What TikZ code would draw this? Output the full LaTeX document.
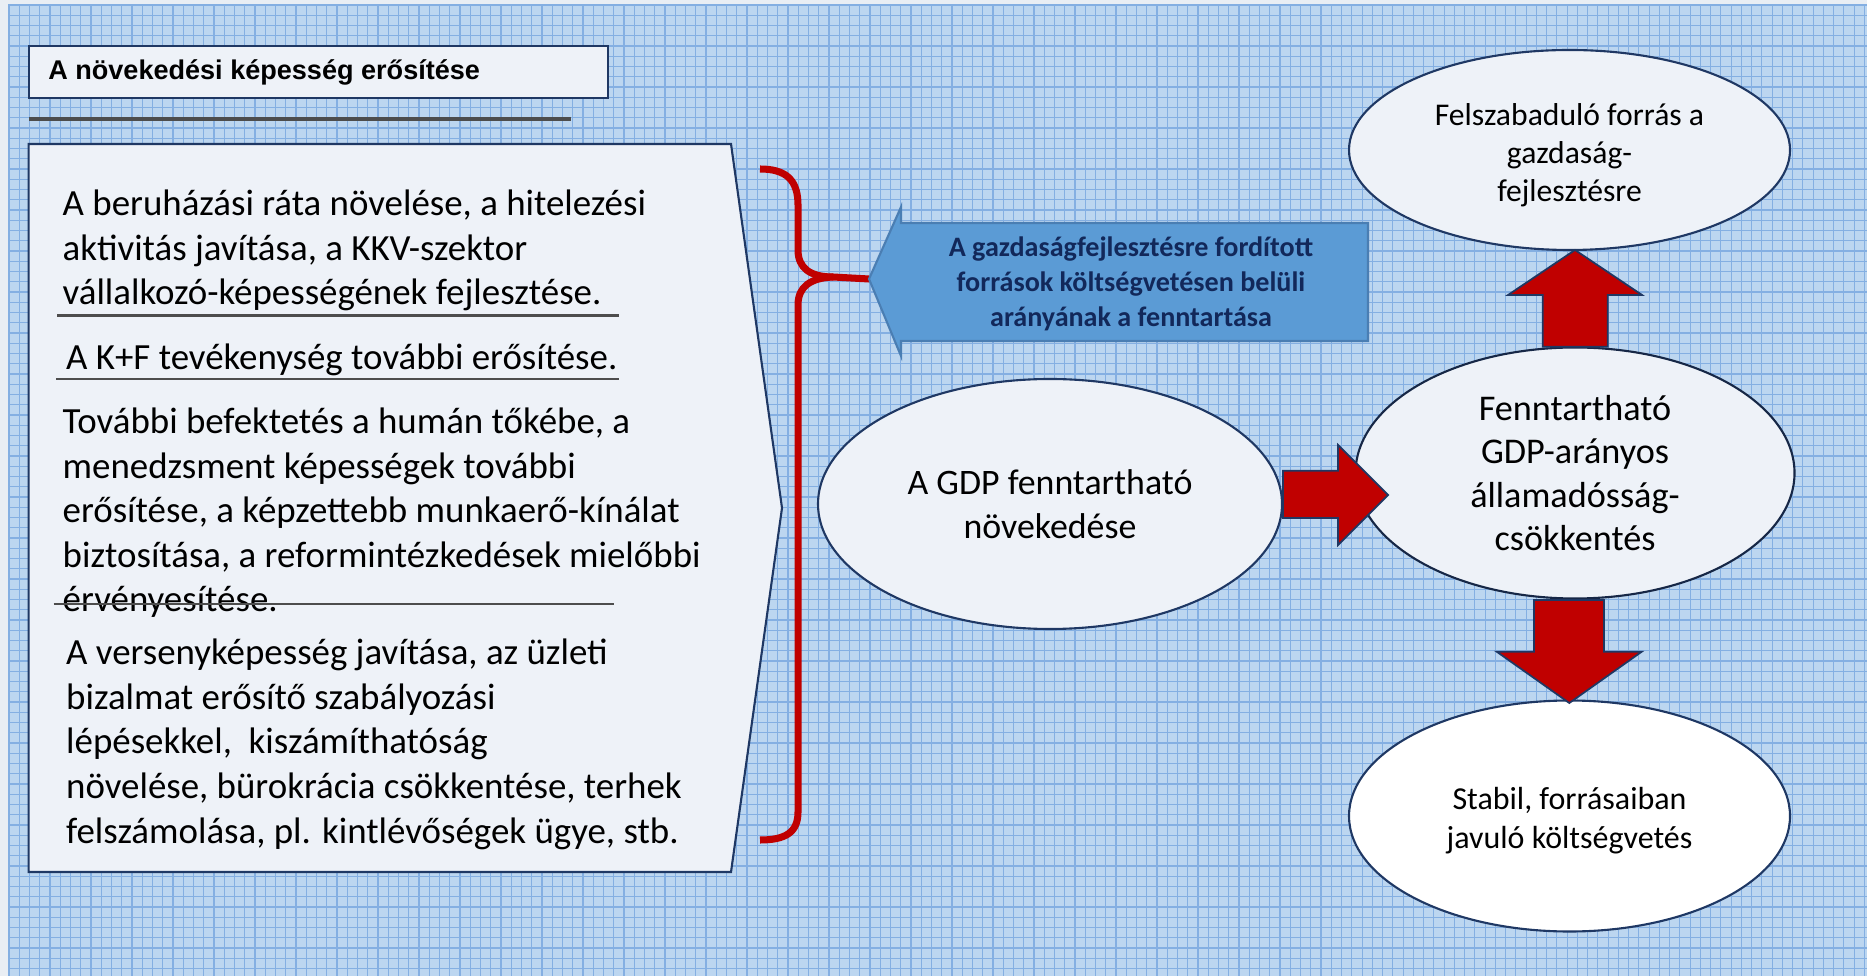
\documentclass[tikz,border=0pt]{standalone}
\usepackage{fontspec}
\setmainfont{Carlito}
\newfontfamily\titlefont{Liberation Sans}
\usetikzlibrary{shapes.geometric}

\definecolor{paper}{HTML}{E9EEF4}
\definecolor{sheetblue}{HTML}{BCD6F0}
\definecolor{gridblue}{HTML}{84AFE2}
\definecolor{boxfill}{HTML}{EEF2F8}
\definecolor{navy}{HTML}{1F3864}
\definecolor{darkred}{HTML}{C00000}
\definecolor{arrowblue}{HTML}{5B9BD5}
\definecolor{arrowedge}{HTML}{4A7EB3}
\definecolor{textnavy}{HTML}{12285A}
\definecolor{rulegray}{HTML}{4D4D4D}

\tikzset{
  gridline/.style={gridblue, line width=0.3pt},
  bodytext/.style={font=\fontsize{10.5}{12.7}\selectfont, align=left, anchor=base west, inner sep=0pt},
  ruleline/.style={rulegray, line width=0.6pt},
  bubble/.style={ellipse, draw=navy, line width=0.6pt, fill=boxfill, inner sep=0pt, align=center},
  redarrow/.style={fill=darkred, draw=navy, line width=0.5pt, line join=miter},
  bracestyle/.style={darkred, line width=2pt}
}

\begin{document}
\begin{tikzpicture}[x=0.1mm, y=-0.1mm]
  \useasboundingbox (0,0) rectangle (1867,976);
  % background sheet with grid
  \fill[paper] (0,0) rectangle (1867,976);
  \fill[sheetblue] (8,5) rectangle (1867,976);
  \foreach \gx in {9,19.25,...,1867} \draw[gridline] (\gx,5) -- (\gx,976);
  \foreach \gy in {5,15.25,...,976} \draw[gridline] (8,\gy) -- (1867,\gy);

  % title
  \draw[navy, line width=0.6pt, fill=boxfill] (28.6,46.4) rectangle (608,97.6);
  \node[anchor=west, inner sep=0pt, font=\titlefont\bfseries\fontsize{7.7}{9}\selectfont] (title) at (47.6,72.6) {A növekedési képesség erősítése};
  \draw[ruleline, line width=0.9pt] (29,119) -- (571,119);

  % left panel (base anchor = last line)
  \draw[navy, line width=0.6pt, fill=boxfill] (28.6,144) -- (731,144) -- (782,508) -- (731,872) -- (28.6,872) -- cycle;
  \node[bodytext] (invest) at (62,305) {A beruházási ráta növelése, a hitelezési\\aktivitás javítása, a KKV-szektor\\vállalkozó-képességének fejlesztése.};
  \draw[ruleline] (57,315.5) -- (619,315.5);
  \node[bodytext] (rnd) at (65.5,370) {A K+F tevékenység további erősítése.};
  \draw[ruleline] (56,378.6) -- (619,378.6);
  \node[bodytext] (human) at (62,612) {További befektetés a humán tőkébe, a\\menedzsment képességek további\\erősítése, a képzettebb munkaerő-kínálat\\biztosítása, a reformintézkedések mielőbbi\\érvényesítése.};
  \draw[ruleline] (53.6,603.7) -- (614,603.7);
  \node[bodytext] (compete) at (65.5,843) {A versenyképesség javítása, az üzleti\\bizalmat erősítő szabályozási\\lépésekkel,\ \ kiszámíthatóság\\növelése, bürokrácia csökkentése, terhek\\felszámolása, pl. kintlévőségek ügye, stb.};

  % brace
  \coordinate (cusp) at (833,277);
  \coordinate (tip) at (869,279);
  \draw[bracestyle] (760,169) .. controls (786,169) and (798,180) .. (798,205) -- (798,250)
    .. controls (798,268) and (810,277) .. (cusp) -- (tip);
  \draw[bracestyle] (cusp) .. controls (810,278) and (798,287) .. (798,305) -- (798,812)
    .. controls (798,832) and (786,840) .. (760,840);

  % blue arrow
  \draw[fill=arrowblue, draw=arrowedge, line width=0.6pt] (tip) -- (901,207) -- (901,223) -- (1368,223)
    -- (1368,341) -- (901,341) -- (901,356) -- cycle;
  \node[font=\bfseries\fontsize{8}{9.9}\selectfont, text=textnavy, align=center] (share) at (1131,284)
    {A gazdaságfejlesztésre fordított\\források költségvetésen belüli\\arányának a fenntartása};

  % bubbles
  \node[bubble, minimum width=46.4mm, minimum height=25mm, font=\fontsize{10.2}{12.4}\selectfont] (gdp) at (1050,504) {A GDP fenntartható\\növekedése};
  \node[bubble, minimum width=43.9mm, minimum height=25.1mm, font=\fontsize{10.3}{12.4}\selectfont, draw=navy!70!black] (debt) at (1575,473) {Fenntartható\\GDP-arányos\\államadósság-\\csökkentés};
  \node[bubble, minimum width=44.1mm, minimum height=20mm, font=\fontsize{9}{10.8}\selectfont] (fund) at (1569.5,150) {};
  \node[font=\fontsize{9}{10.8}\selectfont, align=center] (fundtext) at (1569.5,155) {Felszabaduló forrás a\\gazdaság-\\fejlesztésre};
  \node[bubble, minimum width=44.1mm, minimum height=23.1mm, fill=white, font=\fontsize{9.1}{11.1}\selectfont] (budget) at (1569.5,816) {};
  \node[font=\fontsize{9.1}{11.1}\selectfont, align=center] (budgettext) at (1569.5,821) {Stabil, forrásaiban\\javuló költségvetés};

  % red arrows
  \draw[redarrow] (1283,470.7) -- (1338,470.7) -- (1338,445) -- (1388,495) -- (1338,545) -- (1338,518) -- (1283,518) -- cycle;
  \draw[redarrow] (1542.7,346.7) -- (1542.7,295) -- (1508,295) -- (1575,250) -- (1642,295) -- (1607.7,295) -- (1607.7,346.7) -- cycle;
  \draw[redarrow] (1534,600) -- (1604,600) -- (1604,651.7) -- (1641.7,651.7) -- (1569.3,703) -- (1496.7,651.7) -- (1534,651.7) -- cycle;
\end{tikzpicture}
\end{document}
